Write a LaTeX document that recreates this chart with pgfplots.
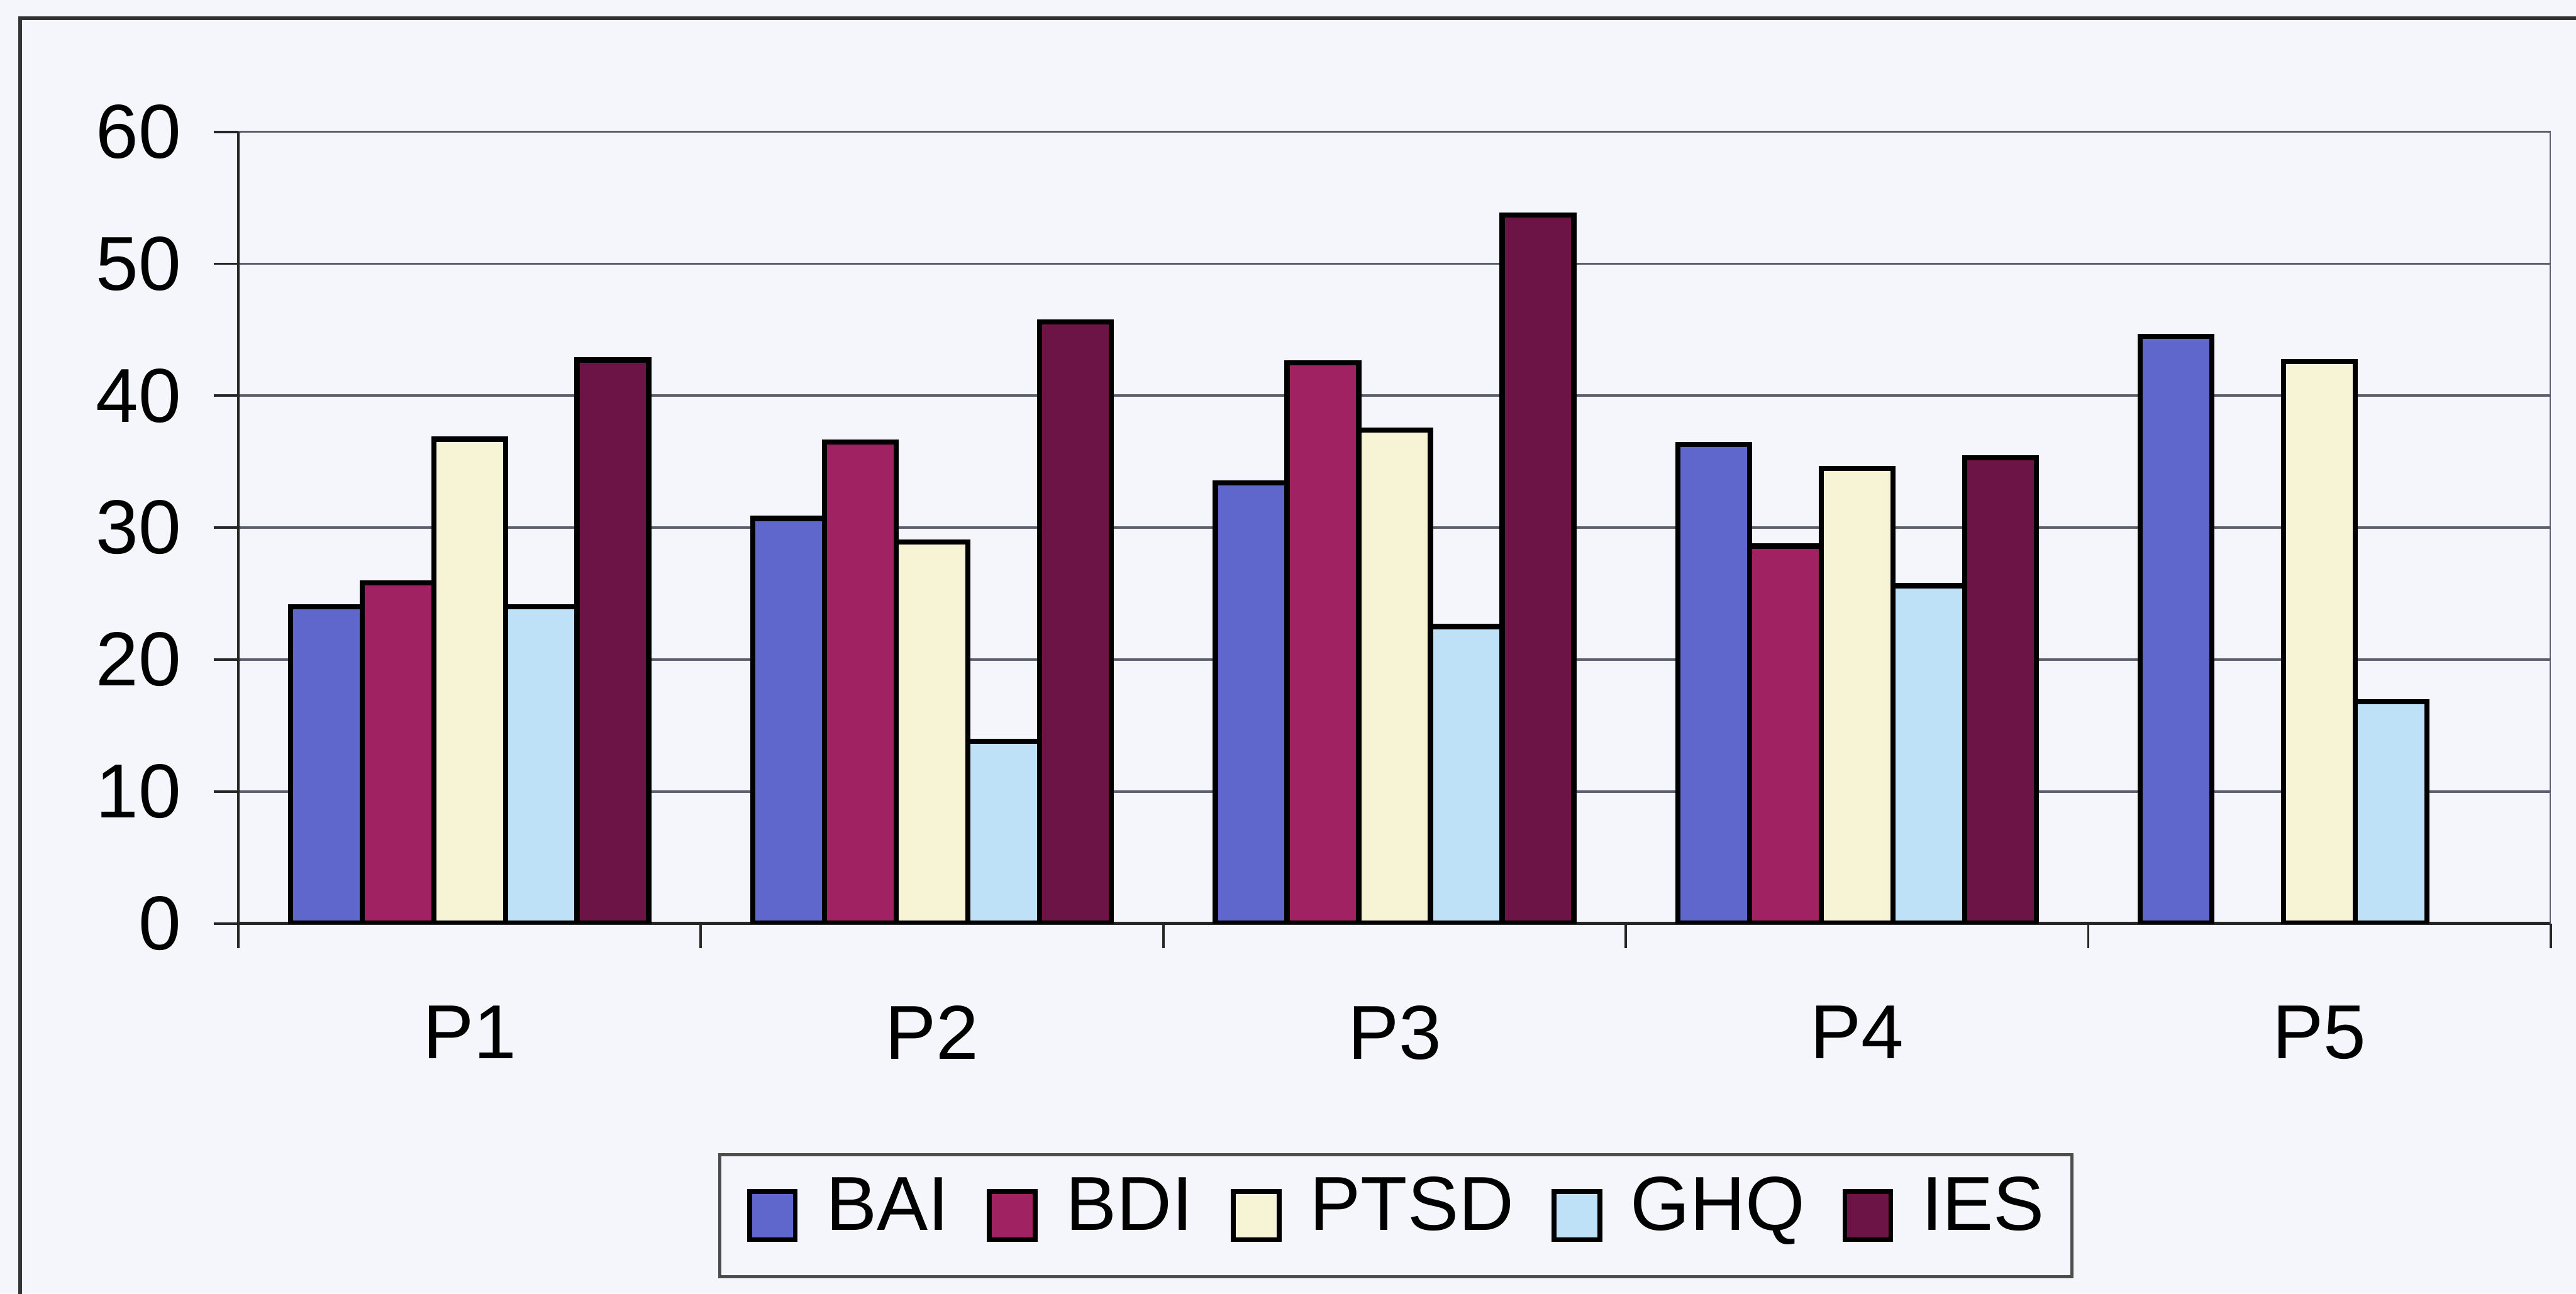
\documentclass[border=0pt]{standalone}
\usepackage{fontspec}
\setmainfont{Liberation Sans}
\usepackage{pgfplots}
\pgfplotsset{compat=1.18}

\definecolor{bg}{HTML}{F5F6FB}
\definecolor{cBAI}{HTML}{5F66CC}
\definecolor{cBDI}{HTML}{A02262}
\definecolor{cPTSD}{HTML}{F7F4D6}
\definecolor{cGHQ}{HTML}{BEE1F8}
\definecolor{cIES}{HTML}{6C1446}
\definecolor{gridc}{HTML}{5E5E72}

\newcommand{\chartfont}{\fontsize{19}{23}\selectfont}

\begin{document}
\begin{tikzpicture}
% page background and the chart frame
\fill[bg] (0,0) rectangle (22.48,-11.29);
\draw[line width=1pt, black!80] (0.175,-0.16) rectangle (23.5,-12);

\begin{axis}[
  at={(2.08cm,-8.06cm)}, anchor=south west,
  scale only axis, width=20.18cm, height=6.91cm,
  xmin=-0.5, xmax=4.5, ymin=0, ymax=60,
  ybar=0pt, bar width=0.155,
  ytick={0,10,...,60},
  xtick={0,1,2,3,4}, xticklabels={P1,P2,P3,P4,P5},
  minor xtick={-0.5,0.5,1.5,2.5,3.5,4.5},
  tick align=outside,
  major tick length=0.215cm, minor tick length=0.215cm,
  major x tick style={draw=none},
  minor x tick style={black!85, line width=0.6pt},
  ytick style={black!85, line width=0.6pt},
  axis x line*=bottom, axis y line*=left,
  axis line style={black!85, line width=0.7pt},
  ymajorgrids, major grid style={gridc, line width=0.55pt},
  tick label style={font=\chartfont},
  /pgf/number format/assume math mode=true,
  yticklabel style={xshift=-0.16cm},
  xticklabel style={yshift=-0.38cm},
  legend columns=5,
  legend image code/.code={\draw[#1, line width=1.2pt] (0cm,-0.2cm) rectangle (0.4cm,0.22cm);},
  legend style={at={(axis description cs:0.2074,-0.2902)}, anchor=north west,
    draw=black!70, line width=0.8pt, fill=bg,
    inner xsep=0.24cm, inner ysep=0.3cm, font=\chartfont,
    nodes={inner sep=0pt, text height=0.72em, text depth=0.04em},
    /tikz/every odd column/.append style={column sep=0.245cm},
    /tikz/every even column/.append style={column sep=0.33cm}},
]
\addplot[fill=cBAI, draw=black, line width=1.3pt]
  coordinates {(0,24) (1,30.7) (2,33.4) (3,36.3) (4,44.5)};
\addplot[fill=cBDI, draw=black, line width=1.3pt]
  coordinates {(0,25.8) (1,36.5) (2,42.5) (3,28.6)};
\addplot[fill=cPTSD, draw=black, line width=1.3pt]
  coordinates {(0,36.7) (1,28.9) (2,37.4) (3,34.5) (4,42.6)};
\addplot[fill=cGHQ, draw=black, line width=1.3pt]
  coordinates {(0,24) (1,13.8) (2,22.5) (3,25.6) (4,16.8)};
\addplot[fill=cIES, draw=black, line width=1.3pt]
  coordinates {(0,42.7) (1,45.6) (2,53.7) (3,35.3)};
\legend{BAI,BDI,PTSD,GHQ,IES}
% right edge of the plot area
\draw[gridc, line width=0.55pt] (rel axis cs:1,0) -- (rel axis cs:1,1);
\end{axis}

\pgfresetboundingbox
\path[use as bounding box] (0,0) rectangle (22.48,-11.29);
\end{tikzpicture}
\end{document}
